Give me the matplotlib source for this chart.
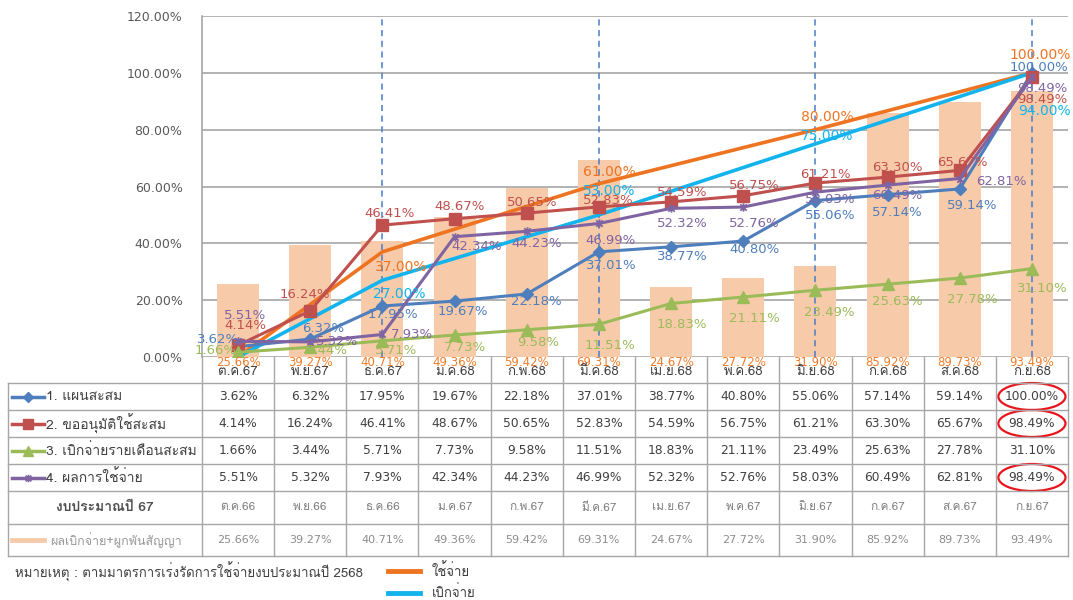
import matplotlib
matplotlib.use("Agg")
import matplotlib.pyplot as plt
import numpy as np
from matplotlib import font_manager
from matplotlib.ft2font import FT2Font
from matplotlib.lines import Line2D
from matplotlib.patches import Ellipse
from matplotlib.path import Path


def thai_family():
    # pick any installed font that has Thai glyphs
    for f in font_manager.fontManager.ttflist:
        try:
            if 0x0E01 in FT2Font(f.fname).get_charmap():
                return f.name
        except Exception:
            continue
    return None


THAI = thai_family()
FAM = [THAI, "DejaVu Sans"] if THAI else ["DejaVu Sans"]
plt.rcParams["font.family"] = FAM

# ---- data -------------------------------------------------------------
months = ["ต.ค.67", "พ.ย.67", "ธ.ค.67", "ม.ค.68", "ก.พ.68", "มี.ค.68",
          "เม.ย.68", "พ.ค.68", "มิ.ย.68", "ก.ค.68", "ส.ค.68", "ก.ย.68"]
prev_months = ["ต.ค.66", "พ.ย.66", "ธ.ค.66", "ม.ค.67", "ก.พ.67", "มี.ค.67",
               "เม.ย.67", "พ.ค.67", "มิ.ย.67", "ก.ค.67", "ส.ค.67", "ก.ย.67"]

plan = [3.62, 6.32, 17.95, 19.67, 22.18, 37.01, 38.77, 40.80, 55.06, 57.14, 59.14, 100.00]
approved = [4.14, 16.24, 46.41, 48.67, 50.65, 52.83, 54.59, 56.75, 61.21, 63.30, 65.67, 98.49]
disbursed = [1.66, 3.44, 5.71, 7.73, 9.58, 11.51, 18.83, 21.11, 23.49, 25.63, 27.78, 31.10]
spent = [5.51, 5.32, 7.93, 42.34, 44.23, 46.99, 52.32, 52.76, 58.03, 60.49, 62.81, 98.49]
prev_year = [25.66, 39.27, 40.71, 49.36, 59.42, 69.31, 24.67, 27.72, 31.90, 85.92, 89.73, 93.49]

target_idx = [0, 2, 5, 8, 11]
target_spend = [0, 37, 61, 80, 100]
target_spend_lbl = ["", "37.00%", "61.00%", "80.00%", "100.00%"]
target_disb = [0, 27, 50, 75, 100]
target_disb_lbl = ["", "27.00%", "53.00%", "75.00%", "94.00%"]

row_names = ["1. แผนสะสม", "2. ขออนุมัติใช้สะสม", "3. เบิกจ่ายรายเดือนสะสม", "4. ผลการใช้จ่าย"]
budget_label = "งบประมาณปี 67"
bar_label = "ผลเบิกจ่าย+ผูกพันสัญญา"
note = "หมายเหตุ : ตามมาตรการเร่งรัดการใช้จ่ายงบประมาณปี 2568"
legend_spend = "ใช้จ่าย"
legend_disb = "เบิกจ่าย"

# ---- style ------------------------------------------------------------
C_BLUE, C_RED, C_GREEN, C_PURPLE = "#4F7EBD", "#C0504D", "#9BBB59", "#8064A2"
C_ORANGE, C_CYAN, C_BAR = "#EE7422", "#13B4EE", "#F7CBAA"
C_GRID = "#A6A6A6"
STAR = Path([(-1, -1), (1, 1), (-1, 1), (1, -1), (0, -1.3), (0, 1.3)],
            [Path.MOVETO, Path.LINETO] * 3)

# label offsets in pixels (dx, dy up), per point
OFF = {
    "plan": [(-20, 7), (13, 11), (10, -9), (8, -10), (10, -8), (12, -14),
             (11, -10), (11, -8), (15, -15), (10, -18), (12, -17), (7, 5)],
    "approved": [(7, 20), (-5, 16), (7, 12), (5, 12), (5, 11), (9, 6),
                 (11, 9), (11, 10), (10, 9), (10, 10), (3, 8), (10, -22)],
    "disbursed": [(-23, 2), (17, -3), (14, -10), (10, -12), (11, -13), (11, -21),
                  (11, -21), (11, -21), (14, -22), (10, -17), (13, -21), (10, -20)],
    "spent": [(7, 26), (27, 0), (30, 0), (22, -10), (10, -12), (12, -17),
              (11, -15), (11, -16), (15, -7), (10, -10), (42, -3), (10, -11)],
    "t_spend": [(0, 0), (19, -15), (10, 12), (12, 13), (8, 18)],
    "t_disb": [(0, 0), (17, -14), (10, 24), (12, 8), (13, -38)],
}

W, H = 1073, 600
fig = plt.figure(figsize=(W / 100, H / 100), dpi=100)
X0, X1, YT, YB = 202, 1068, 16, 357
ax = fig.add_axes([X0 / W, 1 - YB / H, (X1 - X0) / W, (YB - YT) / H])
x = np.arange(len(months))

ax.bar(x, prev_year, width=0.58, color=C_BAR, zorder=1)
for xi in [2, 5, 8, 11]:
    ax.axvline(xi, color="#4A7CC7", lw=1.1, ls=(0, (4, 3)), zorder=2)

ax.plot(np.array(target_idx), target_spend, color=C_ORANGE, lw=2.6, zorder=3)
ax.plot(np.array(target_idx), target_disb, color=C_CYAN, lw=2.6, zorder=3)

series = [
    ("plan", plan, C_BLUE, dict(marker="D", ms=6)),
    ("approved", approved, C_RED, dict(marker="s", ms=8)),
    ("disbursed", disbursed, C_GREEN, dict(marker="^", ms=8)),
    ("spent", spent, C_PURPLE, dict(marker=STAR, ms=6, mew=1.3, mfc="none")),
]
for key, vals, col, mk in series:
    ax.plot(x, vals, color=col, lw=2.2, zorder=4, mec=col, **mk)
    for xi, v, (dx, dy) in zip(x, vals, OFF[key]):
        ax.annotate(f"{v:.2f}%", (xi, v), xytext=(dx, dy), textcoords="offset pixels",
                    ha="center", va="center", fontsize=9.5, color=col, zorder=6,
                    family="DejaVu Sans")

for vals, lbls, col, key in [(target_spend, target_spend_lbl, C_ORANGE, "t_spend"),
                             (target_disb, target_disb_lbl, C_CYAN, "t_disb")]:
    for xi, v, s, (dx, dy) in zip(target_idx, vals, lbls, OFF[key]):
        if s:
            ax.annotate(s, (xi, v), xytext=(dx, dy), textcoords="offset pixels",
                        ha="center", va="center", fontsize=10, color=col, zorder=6,
                        family="DejaVu Sans")

for xi, v in zip(x, prev_year):
    ax.annotate(f"{v:.2f}%", (xi, 0), xytext=(0, -5), textcoords="offset pixels",
                ha="center", va="center", fontsize=8.5, color="#F07C28", zorder=6,
                family="DejaVu Sans", annotation_clip=False)

ax.set_xlim(-0.5, 11.5)
ax.set_ylim(0, 120)
ax.set_yticks(np.arange(0, 121, 20))
ax.set_yticklabels([f"{t:.2f}%" for t in range(0, 121, 20)], family="DejaVu Sans",
                   fontsize=9, color="#595959")
ax.set_xticks([])
ax.tick_params(axis="y", length=0, pad=14)
ax.grid(axis="y", color=C_GRID, lw=1.2, zorder=0)
ax.set_axisbelow(True)
for s in ["top", "right", "bottom"]:
    ax.spines[s].set_visible(False)
ax.spines["left"].set_color(C_GRID)
ax.spines["left"].set_linewidth(1.2)

# ---- table ------------------------------------------------------------
TB = 556
tax = fig.add_axes([X0 / W, 1 - TB / H, (X1 - X0) / W, (TB - YB) / H])
tax.set_xlim(-0.5, 11.5)
tax.set_ylim(TB, YB)
tax.axis("off")
CW = (X1 - X0) / 12


def px(p):
    return -0.5 + (p - X0) / CW


rows = [357, 383, 410, 437, 464, 491, 524, 556]
xl = px(8)
for xb in np.arange(-0.5, 12, 1):
    tax.plot([xb, xb], [rows[0], rows[-1]], color=C_GRID, lw=1, clip_on=False)
tax.plot([xl, xl], [rows[1], rows[-1]], color=C_GRID, lw=1, clip_on=False)
for yb in rows[1:]:
    tax.plot([xl, 11.5], [yb, yb], color=C_GRID, lw=1, clip_on=False)

ymid = [(a + b) / 2 for a, b in zip(rows[:-1], rows[1:])]
for xi, m in zip(x, months):
    tax.text(xi, ymid[0] + 2, m, ha="center", va="center", fontsize=9.5, color="#404040")

for r, (key, vals, col, mk) in enumerate(series):
    yc = ymid[r + 1]
    tax.add_line(Line2D([px(12), px(44)], [yc, yc], color=col, lw=2.5, clip_on=False))
    tax.add_line(Line2D([px(28)], [yc], color=col, mec=col, clip_on=False,
                        **{k: (v * 0.9 if k == "ms" else v) for k, v in mk.items()}))
    tax.text(px(46), yc, row_names[r], ha="left", va="center", fontsize=10, color="#404040")
    for xi, v in zip(x, vals):
        tax.text(xi, yc, f"{v:.2f}%", ha="center", va="center", fontsize=8.8,
                 color="#404040", family="DejaVu Sans")

tax.text(px(105), ymid[5], budget_label, ha="center", va="center", fontsize=10,
         color="#505050", fontweight="bold")
for xi, m in zip(x, prev_months):
    tax.text(xi, ymid[5], m, ha="center", va="center", fontsize=8.5, color="#808080")

tax.add_line(Line2D([px(12), px(44)], [ymid[6], ymid[6]], color=C_BAR, lw=3.5, clip_on=False))
tax.text(px(50), ymid[6], bar_label, ha="left", va="center", fontsize=9, color="#999999")
for xi, v in zip(x, prev_year):
    tax.text(xi, ymid[6], f"{v:.2f}%", ha="center", va="center", fontsize=8,
             color="#8C8C8C", family="DejaVu Sans")

for r in [1, 2, 4]:
    tax.add_patch(Ellipse((11, ymid[r]), 0.93, 27, fill=False, ec="#E8141C", lw=1.6,
                          clip_on=False))

# ---- footnote ---------------------------------------------------------
fig.text(15 / W, 1 - 572 / H, note, ha="left", va="center", fontsize=9.5, color="#404040")
for yy, col, s in [(571, C_ORANGE, legend_spend), (593, C_CYAN, legend_disb)]:
    fig.add_artist(Line2D([388 / W, 420 / W], [1 - yy / H, 1 - yy / H], color=col, lw=3.5,
                          transform=fig.transFigure))
    fig.text(432 / W, 1 - yy / H, s, ha="left", va="center", fontsize=9.5, color="#404040")

fig.savefig("out.png", dpi=100)
